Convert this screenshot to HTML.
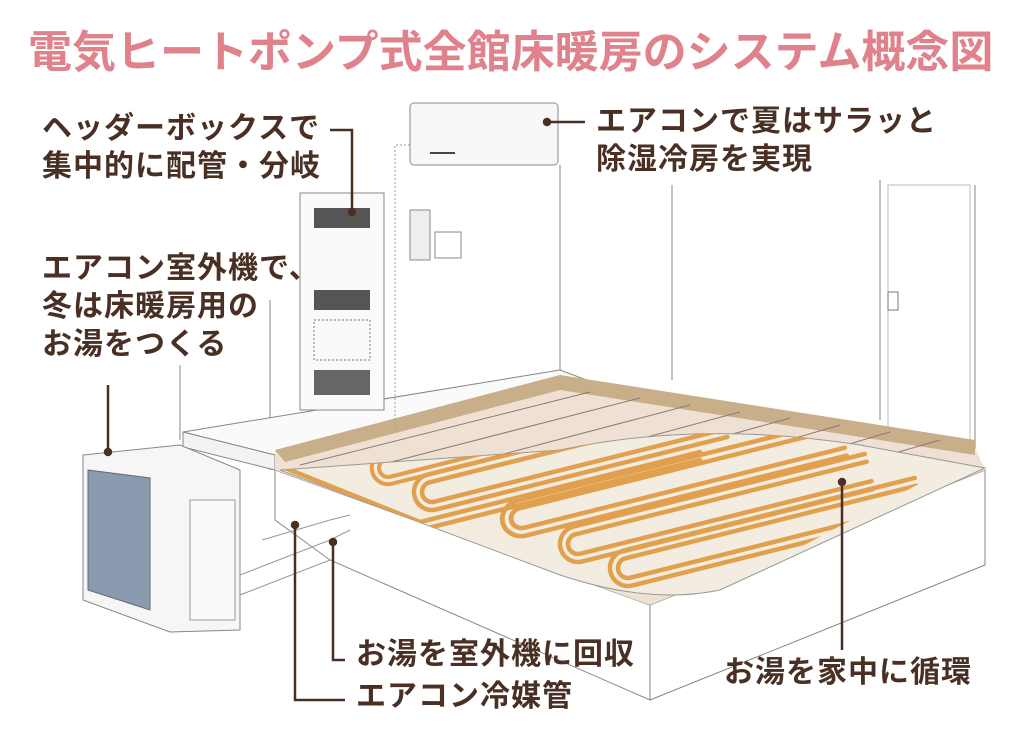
<!DOCTYPE html>
<html><head><meta charset="utf-8">
<style>
html,body{margin:0;padding:0;background:#fff;}
body{width:1024px;height:740px;overflow:hidden;position:relative;font-family:"Liberation Sans","Noto Sans CJK JP",sans-serif;}
.t{position:absolute;color:#4a3024;font-weight:bold;font-size:30px;line-height:38px;white-space:nowrap;letter-spacing:1px;}
.title{position:absolute;left:28px;top:16px;color:#e0828c;font-size:44px;font-weight:bold;white-space:nowrap;letter-spacing:0px;}
svg{position:absolute;left:0;top:0;}
</style></head><body>
<svg width="1024" height="740" viewBox="0 0 1024 740">
 <defs>
  <g id="hp">
   <path d="M300,-18 H0 A18,18 0 0 0 0,18 H300"/>
   <path d="M300,-10 H0 A10,10 0 0 0 0,10 H300"/>
  </g>
  <clipPath id="pc"><path d="M280,470 L560,450 Q700,420 860,445 L960,462 L720,590 Q650,605 560,575 Z"/></clipPath>
 </defs>
 <g fill="none" stroke="#8a8580" stroke-width="1">
  <line x1="560" y1="165" x2="560" y2="372"/>
  <line x1="672" y1="185" x2="672" y2="380"/>
  <line x1="880" y1="180" x2="880" y2="420"/>
  <line x1="975" y1="185" x2="975" y2="455"/>
  <line x1="180" y1="365" x2="180" y2="440"/>
  <line x1="270" y1="300" x2="270" y2="470"/>
  <rect x="888" y="185" width="82" height="260" stroke="#bbb"/>
  <rect x="888" y="292" width="10" height="18" stroke="#777"/>
  <polygon points="183,432 560,370 600,385 275,455" fill="#fafafa"/>
  <polygon points="183,432 275,455 275,470 183,447" fill="#f3f3f3"/>
  <polygon points="275,470 650,605 650,700 330,560 275,520" fill="#fff"/>
  <polygon points="650,605 985,470 985,565 650,700" fill="#fff"/>
 </g>
 <polygon points="275,450 560,375 975,448 985,470 650,605 275,470" fill="#efe0d4"/>
 <polygon points="275,450 560,375 560,390 285,462" fill="#c9ae8a"/>
 <polygon points="560,375 975,440 975,455 560,390" fill="#c9ae8a"/>
 <g stroke="#8a7a70" stroke-width="1">
  <line x1="300" y1="465" x2="590" y2="392"/>
  <line x1="360" y1="470" x2="640" y2="398"/>
  <line x1="420" y1="476" x2="690" y2="405"/>
  <line x1="480" y1="482" x2="740" y2="412"/>
  <line x1="540" y1="488" x2="790" y2="418"/>
  <line x1="610" y1="492" x2="840" y2="425"/>
  <line x1="680" y1="494" x2="890" y2="432"/>
  <line x1="750" y1="495" x2="940" y2="440"/>
 </g>
 <path d="M280,470 L560,450 Q700,420 860,445 L985,468 L720,590 Q650,605 560,575 Z" fill="#f3ece0" stroke="#999"/>
 <g fill="none" stroke="#e1a04e" stroke-width="4.5" stroke-linecap="round" clip-path="url(#pc)">
  <path d="M280,466 L420,522 L700,452"/>
  <path d="M282,474 L420,530 L700,460"/>
  <use href="#hp" transform="translate(388,468) rotate(-14) scale(0.9,0.9)"/>
  <use href="#hp" transform="translate(432,492) rotate(-14)"/>
  <use href="#hp" transform="translate(522,518) rotate(-14) scale(1.1,1)"/>
  <use href="#hp" transform="translate(578,544) rotate(-14)"/>
  <use href="#hp" transform="translate(628,568) rotate(-14)"/>
 </g>
 <rect x="300" y="193" width="84" height="217" fill="#fafafa" stroke="#888"/>
 <rect x="314" y="208" width="56" height="20" fill="#555"/>
 <rect x="314" y="290" width="56" height="20" fill="#555"/>
 <rect x="314" y="320" width="56" height="40" fill="none" stroke="#777" stroke-dasharray="2,2"/>
 <rect x="314" y="370" width="56" height="25" fill="#666"/>
 <rect x="410" y="103" width="148" height="62" rx="4" fill="#f7f7f7" stroke="#888"/>
 <line x1="430" y1="153" x2="455" y2="153" stroke="#444" stroke-width="2"/>
 <path d="M410,145 L395,145 L395,430" fill="none" stroke="#999" stroke-dasharray="2,2"/>
 <rect x="410" y="210" width="20" height="50" fill="#eee" stroke="#888"/>
 <rect x="435" y="232" width="26" height="26" fill="#fff" stroke="#888"/>
 <polygon points="83,455 180,445 240,470 240,630 170,632 83,600" fill="#f6f6f6" stroke="#888"/>
 <polygon points="88,470 150,478 150,610 88,590" fill="#8a9bb0" stroke="#667"/>
 <rect x="190" y="500" width="45" height="120" fill="#f9f9f9" stroke="#999"/>
 <g fill="none" stroke="#999">
  <path d="M240,575 L330,540 L350,530"/>
  <path d="M240,595 L330,560"/>
  <path d="M262,540 L330,520 L350,515"/>
 </g>
 <g stroke="#4a3024" stroke-width="2.5" fill="none">
  <path d="M330,130 L352,130 L352,210"/>
  <circle cx="352" cy="212" r="3" fill="#4a3024"/>
  <path d="M547,122 L585,122"/>
  <circle cx="547" cy="122" r="3" fill="#4a3024"/>
  <path d="M108,385 L108,450"/>
  <circle cx="108" cy="452" r="3" fill="#4a3024"/>
  <path d="M295,525 L295,700 L345,700"/>
  <circle cx="295" cy="525" r="3" fill="#4a3024"/>
  <path d="M333,542 L333,660 L345,660"/>
  <circle cx="333" cy="542" r="3" fill="#4a3024"/>
  <path d="M842,482 L842,650"/>
  <circle cx="842" cy="482" r="3" fill="#4a3024"/>
 </g>
</svg>
<div class="title">電気ヒートポンプ式全館床暖房のシステム概念図</div>
<div class="t" style="left:42px;top:110px;">ヘッダーボックスで<br>集中的に配管・分岐</div>
<div class="t" style="left:596px;top:103px;">エアコンで夏はサラッと<br>除湿冷房を実現</div>
<div class="t" style="left:42px;top:250px;">エアコン室外機で、<br>冬は床暖房用の<br>お湯をつくる</div>
<div class="t" style="left:356px;top:636px;">お湯を室外機に回収</div>
<div class="t" style="left:356px;top:678px;">エアコン冷媒管</div>
<div class="t" style="left:724px;top:654px;">お湯を家中に循環</div>
</body></html>
